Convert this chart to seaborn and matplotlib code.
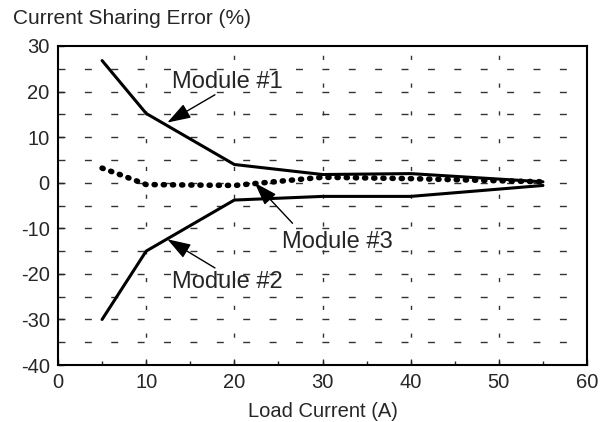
import matplotlib
matplotlib.use("Agg")
import matplotlib.pyplot as plt
import seaborn as sns
import pandas as pd
from matplotlib.ticker import MultipleLocator

# Load current (A) at each measurement
load_m12 = [5, 10, 20, 30, 40, 55]
module1 = [26.8, 15.2, 4.0, 1.8, 2.0, 0.2]
module2 = [-30.0, -15.0, -3.8, -3.0, -3.0, -0.6]

load_m3 = [5, 7, 10, 15, 20, 25, 30, 40, 55]
module3 = [3.2, 1.8, -0.4, -0.5, -0.6, 0.3, 1.2, 0.9, 0.2]

x_ticks = [0, 10, 20, 30, 40, 50, 60]
y_ticks = [-40, -30, -20, -10, 0, 10, 20, 30]

sns.set_style("ticks")
plt.rcParams["font.family"] = ["Liberation Sans", "DejaVu Sans"]
plt.rcParams["axes.unicode_minus"] = False

fig = plt.figure(figsize=(6.08, 4.22), dpi=100)
ax = fig.add_axes([0.0954, 0.135, 0.8701, 0.756])

df12 = pd.DataFrame({"load": load_m12 * 2,
                     "err": module1 + module2,
                     "module": ["Module #1"] * len(load_m12) + ["Module #2"] * len(load_m12)})
df3 = pd.DataFrame({"load": load_m3, "err": module3})

# grid: horizontal every 5 %, vertical every 10 A
for yv in range(-35, 30, 5):
    ax.axhline(yv, color="#333333", lw=1.0, dashes=(5, 14), zorder=0)
for xv in range(10, 60, 10):
    ax.axvline(xv, color="#333333", lw=1.0, dashes=(3, 17), zorder=0)

sns.lineplot(data=df12, x="load", y="err", units="module", estimator=None,
             color="black", lw=2.2, ax=ax, legend=False)
sns.lineplot(data=df3, x="load", y="err", color="black", lw=4.0,
             dashes=False, ax=ax, legend=False,
             linestyle=(0, (0.2, 1.45)), dash_capstyle="round")

ax.set_xlim(0, 60)
ax.set_ylim(-40, 30)
ax.set_xticks(x_ticks)
ax.set_yticks(y_ticks)
ax.xaxis.set_minor_locator(MultipleLocator(5))
ax.tick_params(axis="both", which="major", direction="in", length=4,
               labelsize=14.5, width=1, top=False, right=False, pad=6)
ax.tick_params(axis="x", which="minor", direction="in", length=3, width=1)
for s in ax.spines.values():
    s.set_visible(True)
    s.set_linewidth(1.5)
    s.set_color("black")
ax.set_xlabel("Load Current (A)", fontsize=14.5, labelpad=7)
ax.set_ylabel("")
fig.text(0.021, 0.955, "Current Sharing Error (%)", fontsize=15, va="center", ha="left")

arrow = dict(arrowstyle="-|>,head_length=0.9,head_width=0.3", color="black",
             lw=1.0, mutation_scale=16, shrinkA=0, shrinkB=0)
label_kw = dict(fontsize=17, ha="left", va="center")

ax.text(12.9, 22.1, "Module #1", **label_kw)
ax.annotate("", xy=(12.4, 13.2), xytext=(17.8, 19.3), arrowprops=arrow)

ax.text(12.9, -21.8, "Module #2", **label_kw)
ax.annotate("", xy=(12.4, -12.4), xytext=(17.8, -18.7), arrowprops=arrow)

ax.text(25.4, -13.0, "Module #3", **label_kw)
ax.annotate("", xy=(22.3, 0.0), xytext=(26.6, -8.9), arrowprops=arrow)

fig.savefig("out.png", dpi=100)
